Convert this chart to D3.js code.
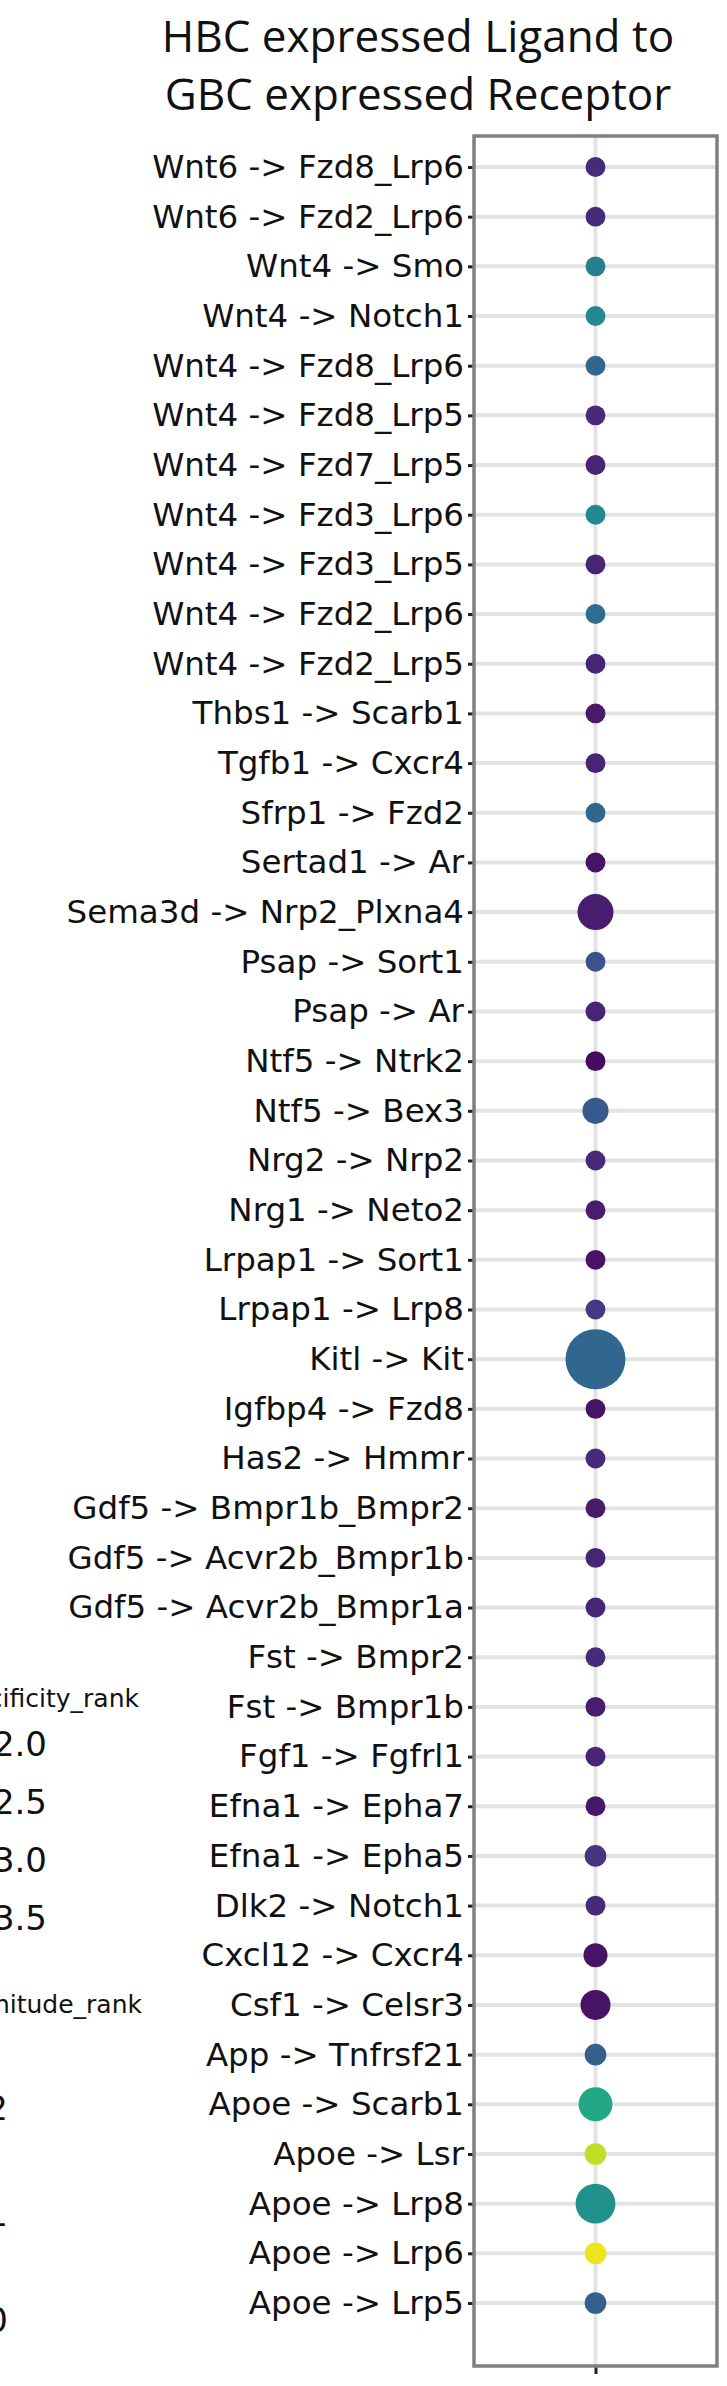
<!DOCTYPE html>
<html><head><meta charset="utf-8">
<script src="https://cdn.jsdelivr.net/npm/d3@7"></script>
<style>body{margin:0;background:#fff}</style></head>
<body><script>
const pairs=["Wnt6 -> Fzd8_Lrp6","Wnt6 -> Fzd2_Lrp6","Wnt4 -> Smo","Wnt4 -> Notch1","Wnt4 -> Fzd8_Lrp6","Wnt4 -> Fzd8_Lrp5","Wnt4 -> Fzd7_Lrp5","Wnt4 -> Fzd3_Lrp6","Wnt4 -> Fzd3_Lrp5","Wnt4 -> Fzd2_Lrp6","Wnt4 -> Fzd2_Lrp5","Thbs1 -> Scarb1","Tgfb1 -> Cxcr4","Sfrp1 -> Fzd2","Sertad1 -> Ar","Sema3d -> Nrp2_Plxna4","Psap -> Sort1","Psap -> Ar","Ntf5 -> Ntrk2","Ntf5 -> Bex3","Nrg2 -> Nrp2","Nrg1 -> Neto2","Lrpap1 -> Sort1","Lrpap1 -> Lrp8","Kitl -> Kit","Igfbp4 -> Fzd8","Has2 -> Hmmr","Gdf5 -> Bmpr1b_Bmpr2","Gdf5 -> Acvr2b_Bmpr1b","Gdf5 -> Acvr2b_Bmpr1a","Fst -> Bmpr2","Fst -> Bmpr1b","Fgf1 -> Fgfrl1","Efna1 -> Epha7","Efna1 -> Epha5","Dlk2 -> Notch1","Cxcl12 -> Cxcr4","Csf1 -> Celsr3","App -> Tnfrsf21","Apoe -> Scarb1","Apoe -> Lsr","Apoe -> Lrp8","Apoe -> Lrp6","Apoe -> Lrp5"];
const colorVals=[0.12,0.12,0.42,0.47,0.33,0.12,0.1,0.47,0.1,0.35,0.1,0.07,0.1,0.33,0.05,0.08,0.25,0.1,0.03,0.28,0.12,0.08,0.05,0.17,0.33,0.05,0.12,0.07,0.1,0.1,0.12,0.08,0.1,0.06,0.15,0.12,0.05,0.05,0.3,0.6,0.9,0.5,0.97,0.3];
const sizeVals=[0.11,0.11,0.11,0.11,0.11,0.11,0.11,0.11,0.11,0.11,0.11,0.11,0.11,0.11,0.11,0.36,0.11,0.11,0.11,0.19,0.11,0.11,0.11,0.11,1.0,0.11,0.11,0.11,0.11,0.11,0.11,0.11,0.11,0.11,0.13,0.11,0.16,0.25,0.13,0.32,0.13,0.44,0.13,0.13];
const legendSpecLabels=["2.0","2.5","3.0","3.5"];
const legendMagLabels=["2","1","0"];

const W=727,H=2386;
const svg=d3.select("body").append("svg").attr("width",W).attr("height",H).style("font-family","DejaVu Sans");
const L=474,R=717,T=136,B=2366;
const y=d3.scalePoint().domain(pairs).range([167,2303]);
const x=d3.scalePoint().domain(["x"]).range([L,R]).padding(0.5);
const r=d3.scaleSqrt().domain([0,1]).range([0,30]);
const col=d3.scaleSequential(d3.interpolateViridis).domain([0,1]);

svg.append("g").selectAll("line").data(pairs).join("line")
 .attr("x1",L).attr("x2",R).attr("y1",d=>y(d)).attr("y2",d=>y(d)).attr("stroke","#e3e3e3").attr("stroke-width",4);
svg.append("line").attr("x1",x("x")).attr("x2",x("x")).attr("y1",T).attr("y2",B).attr("stroke","#e3e3e3").attr("stroke-width",4);

const ya=svg.append("g").attr("transform",`translate(${L},0)`).call(d3.axisLeft(y).tickSize(6).tickPadding(4));
ya.select(".domain").remove();
ya.selectAll("line").attr("stroke","#222").attr("stroke-width",3);
ya.selectAll("text").attr("font-size",32.5).attr("fill","#111").attr("font-family","DejaVu Sans");
const xa=svg.append("g").attr("transform",`translate(0,${B})`).call(d3.axisBottom(x).tickSize(8).tickFormat(""));
xa.select(".domain").remove();
xa.selectAll("line").attr("stroke","#222").attr("stroke-width",3);

svg.append("g").selectAll("circle").data(pairs).join("circle")
 .attr("cx",x("x")).attr("cy",d=>y(d)).attr("r",(d,i)=>r(sizeVals[i]))
 .attr("fill",(d,i)=>col(colorVals[i]));

svg.append("rect").attr("x",L).attr("y",T).attr("width",R-L).attr("height",B-T).attr("fill","none").attr("stroke","#808080").attr("stroke-width",3.5);

const t=svg.append("text").attr("text-anchor","middle").attr("font-family","Open Sans").attr("font-size",44).attr("fill","#111");
t.append("tspan").attr("x",418).attr("y",52).text("HBC expressed Ligand to");
t.append("tspan").attr("x",418).attr("y",110).text("GBC expressed Receptor");

svg.append("text").attr("x",139).attr("y",1707).attr("text-anchor","end").attr("font-size",25).attr("fill","#111").text("specificity_rank");
svg.selectAll(".ls").data(legendSpecLabels).join("text").attr("x",47).attr("y",(d,i)=>1756+i*58).attr("text-anchor","end").attr("font-size",34).attr("fill","#111").text(d=>d);
svg.append("text").attr("x",142).attr("y",2013).attr("text-anchor","end").attr("font-size",25).attr("fill","#111").text("magnitude_rank");
svg.selectAll(".lm").data(legendMagLabels).join("text").attr("x",8).attr("y",(d,i)=>2120+i*106).attr("text-anchor","end").attr("font-size",34).attr("fill","#111").text(d=>d);
</script></body></html>
